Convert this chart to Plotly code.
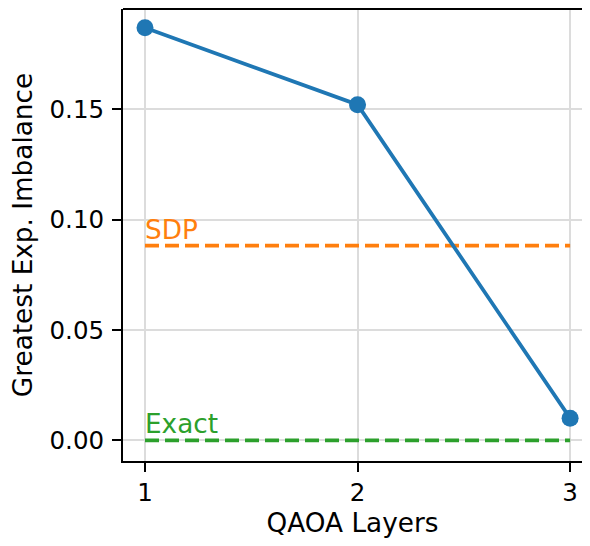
import plotly.graph_objects as go

layers = [1, 2, 3]
qaoa_imbalance = [0.1868, 0.152, 0.0101]
sdp_value = 0.0882
exact_value = 0.0
x_ticks = [1, 2, 3]
y_ticks = [0.00, 0.05, 0.10, 0.15]

BLUE = "#1f77b4"
ORANGE = "#ff7f0e"
GREEN = "#2ca02c"
FONT = "DejaVu Sans"
FS = 24.5
FS_LABEL = 26.3

fig = go.Figure()
fig.add_trace(go.Scatter(x=[layers[0], layers[-1]], y=[sdp_value, sdp_value], mode="lines",
                         line=dict(color=ORANGE, width=3.75, dash="14px,6px"), showlegend=False))
fig.add_trace(go.Scatter(x=[layers[0], layers[-1]], y=[exact_value, exact_value], mode="lines",
                         line=dict(color=GREEN, width=3.75, dash="14px,6px"), showlegend=False))
fig.add_trace(go.Scatter(x=layers, y=qaoa_imbalance, mode="lines+markers",
                         line=dict(color=BLUE, width=3.75),
                         marker=dict(color=BLUE, size=17), showlegend=False))

fig.add_annotation(x=layers[0], y=sdp_value, text="SDP", showarrow=False, xanchor="left",
                   yanchor="bottom", borderpad=0, yshift=0, xshift=-1,
                   font=dict(family=FONT, size=FS_LABEL, color=ORANGE))
fig.add_annotation(x=layers[0], y=exact_value, text="Exact", showarrow=False, xanchor="left",
                   yanchor="bottom", borderpad=0, yshift=0, xshift=-1,
                   font=dict(family=FONT, size=FS_LABEL, color=GREEN))

# top spine
fig.add_shape(type="line", xref="paper", yref="paper", x0=0, x1=1, y0=1, y1=1,
              line=dict(color="black", width=2), layer="above")

fig.update_layout(
    width=574, height=530,
    margin=dict(l=115, r=0, t=1, b=77),
    plot_bgcolor="white", paper_bgcolor="white",
    font=dict(family=FONT, size=FS, color="black"),
    xaxis=dict(range=[0.8965, 3.056], tickvals=x_ticks, ticktext=[str(v) for v in x_ticks],
               showgrid=True, gridcolor="#dcdcdc", gridwidth=2,
               showline=True, linecolor="black", linewidth=2, mirror=False,
               ticks="outside", ticklen=9, tickwidth=2, tickcolor="black",
               zeroline=False, automargin=False,
               title=dict(text="QAOA Layers", standoff=13, font=dict(size=FS_LABEL))),
    yaxis=dict(range=[-0.0093, 0.1953], tickvals=y_ticks, ticktext=[f"{v:.2f}" for v in y_ticks],
               showgrid=True, gridcolor="#dcdcdc", gridwidth=2,
               showline=True, linecolor="black", linewidth=2, mirror=False,
               ticks="outside", ticklen=9, tickwidth=2, tickcolor="black",
               ticklabelstandoff=3,
               zeroline=False, automargin=False,
               title=dict(text="Greatest Exp. Imbalance", standoff=19, font=dict(size=FS_LABEL))),
)

fig.write_html("out.html")
